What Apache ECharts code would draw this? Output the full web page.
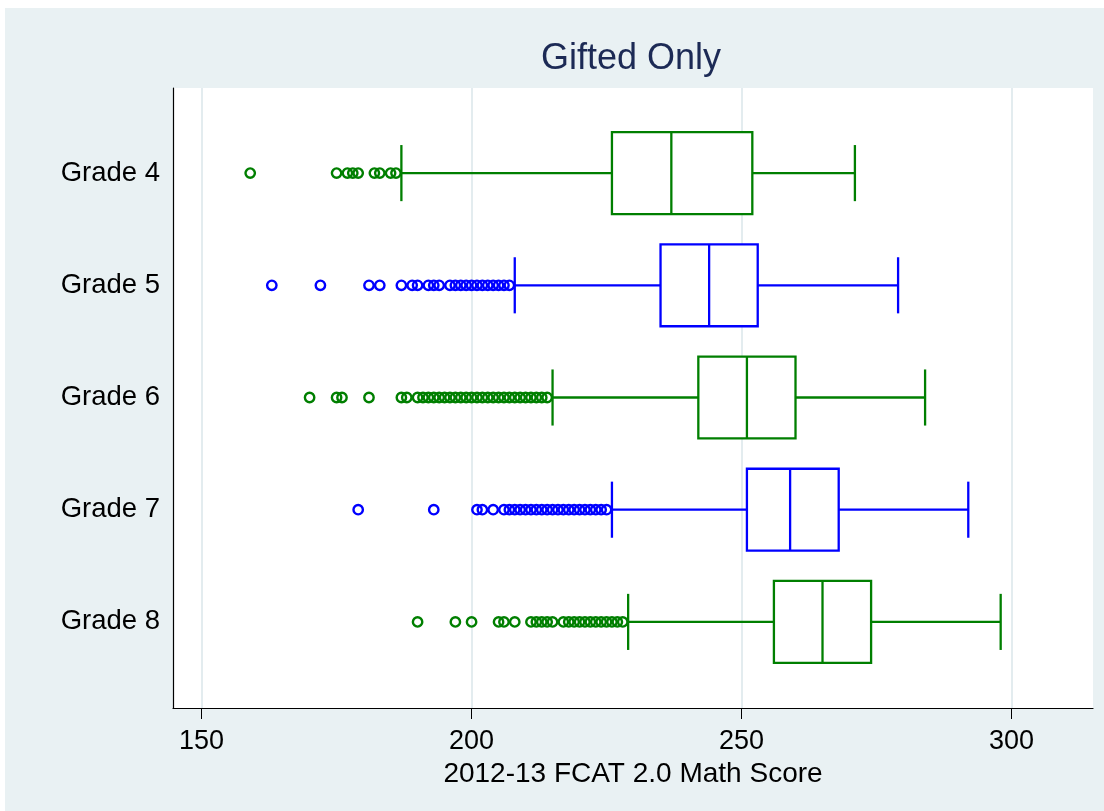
<!DOCTYPE html>
<html>
<head>
<meta charset="utf-8">
<script src="https://cdn.jsdelivr.net/npm/echarts@6/dist/echarts.min.js"></script>
<style>html,body{margin:0;padding:0;background:#fff;}#c{width:1104px;height:811px;}</style>
</head>
<body>
<div id="c"></div>
<script>
const categories = ['Grade 4', 'Grade 5', 'Grade 6', 'Grade 7', 'Grade 8'];
const lowWhisker = [187, 208, 215, 226, 229];
const q1 = [226, 235, 242, 251, 256];
const median = [237, 244, 251, 259, 265];
const q3 = [252, 253, 260, 268, 274];
const highWhisker = [271, 279, 284, 292, 298];
const outliers4 = [159, 175, 177, 178, 179, 182, 183, 185, 186];
const outliers5 = [163, 172, 181, 183, 187, 189, 190, 192, 193, 194, 196, 197, 198, 199, 200, 201, 202, 203, 204, 205, 206, 207];
const outliers6 = [170, 175, 176, 181, 187, 188, 190, 191, 192, 193, 194, 195, 196, 197, 198, 199, 200, 201, 202, 203, 204, 205, 206, 207, 208, 209, 210, 211, 212, 213, 214];
const outliers7 = [179, 193, 201, 202, 204, 206, 207, 208, 209, 210, 211, 212, 213, 214, 215, 216, 217, 218, 219, 220, 221, 222, 223, 224, 225];
const outliers8 = [190, 197, 200, 205, 206, 208, 211, 212, 213, 214, 215, 217, 218, 219, 220, 221, 222, 223, 224, 225, 226, 227, 228];
const xTicks = [150, 200, 250, 300];
const title = 'Gifted Only';
const xTitle = '2012-13 FCAT 2.0 Math Score';

const GREEN = '#007f00', BLUE = '#0000ff';
const colors = [GREEN, BLUE, GREEN, BLUE, GREEN];
const outlierLists = [outliers4, outliers5, outliers6, outliers7, outliers8];
const XMIN = 144.7, XMAX = 315.1;
const FONT = '"Liberation Sans", Arial, sans-serif';

const boxData = categories.map((c, i) => [i, lowWhisker[i], q1[i], median[i], q3[i], highWhisker[i]]);

const series = [{
  type: 'custom',
  xAxisIndex: 1, yAxisIndex: 1,
  data: boxData,
  renderItem: function (params, api) {
    const idx = api.value(0);
    const band = api.size([0, 1])[1];
    const bh = band * 0.73, ch = band * 0.5;
    const pLo = api.coord([api.value(1), idx]);
    const pQ1 = api.coord([api.value(2), idx]);
    const pMd = api.coord([api.value(3), idx]);
    const pQ3 = api.coord([api.value(4), idx]);
    const pHi = api.coord([api.value(5), idx]);
    const y = pMd[1];
    const st = {stroke: colors[idx], lineWidth: 2.3, fill: null};
    return {
      type: 'group',
      children: [
        {type: 'line', shape: {x1: pLo[0], y1: y, x2: pQ1[0], y2: y}, style: st},
        {type: 'line', shape: {x1: pQ3[0], y1: y, x2: pHi[0], y2: y}, style: st},
        {type: 'line', shape: {x1: pLo[0], y1: y - ch / 2, x2: pLo[0], y2: y + ch / 2}, style: st},
        {type: 'line', shape: {x1: pHi[0], y1: y - ch / 2, x2: pHi[0], y2: y + ch / 2}, style: st},
        {type: 'rect', shape: {x: pQ1[0], y: y - bh / 2, width: pQ3[0] - pQ1[0], height: bh}, style: {stroke: colors[idx], lineWidth: 2.3, fill: '#fff'}},
        {type: 'line', shape: {x1: pMd[0], y1: y - bh / 2, x2: pMd[0], y2: y + bh / 2}, style: st}
      ]
    };
  },
  z: 3
}];

outlierLists.forEach((list, i) => {
  series.push({
    type: 'scatter',
    xAxisIndex: 1, yAxisIndex: 1,
    symbol: 'circle',
    symbolSize: 9.4,
    itemStyle: {color: 'rgba(0,0,0,0)', borderColor: colors[i], borderWidth: 2.4, opacity: 1},
    data: list.map(v => [v, i]),
    z: 4
  });
});

const chart = echarts.init(document.getElementById('c'), null, {renderer: 'canvas'});
chart.setOption({
  backgroundColor: '#ffffff',
  animation: false,
  graphic: [{
    type: 'rect', left: 5, top: 8, z: -10,
    shape: {width: 1099, height: 803},
    style: {fill: '#e9f1f3'}
  }],
  title: {
    text: title, left: 536, top: 36,
    textStyle: {fontFamily: FONT, fontSize: 36, fontWeight: 'normal', color: '#1c2a55'}
  },
  grid: [
    {left: 173, right: 11, top: 88, bottom: 103, show: true, backgroundColor: '#ffffff', borderWidth: 0, z: 0},
    {left: 173, right: 11, top: 117, height: 561}
  ],
  xAxis: [{
    gridIndex: 0, type: 'value', min: XMIN, max: XMAX,
    interval: 50,
    axisLine: {show: true, lineStyle: {color: '#000', width: 1.2}},
    axisTick: {show: true, length: 11, lineStyle: {color: '#000', width: 1}, customValues: xTicks},
    axisLabel: {show: true, fontFamily: FONT, fontSize: 27, color: '#000', margin: 20, customValues: xTicks,
      formatter: v => String(v)},
    splitLine: {show: true, lineStyle: {color: '#e3ecef', width: 2}, customValues: xTicks},
    name: xTitle, nameLocation: 'middle', nameGap: 50,
    nameTextStyle: {fontFamily: FONT, fontSize: 28, color: '#000'}
  }, {
    gridIndex: 1, type: 'value', min: XMIN, max: XMAX, show: false
  }],
  yAxis: [{
    gridIndex: 0, type: 'value', min: 0, max: 1,
    axisLine: {show: true, lineStyle: {color: '#000', width: 1.2}},
    axisTick: {show: false}, axisLabel: {show: false}, splitLine: {show: false}
  }, {
    gridIndex: 1, type: 'category', data: categories, inverse: true,
    axisLine: {show: false}, axisTick: {show: false}, splitLine: {show: false},
    axisLabel: {fontFamily: FONT, fontSize: 27.5, color: '#000', margin: 13, padding: [5, 0, 0, 0]}
  }],
  series: series
});
</script>
</body>
</html>
